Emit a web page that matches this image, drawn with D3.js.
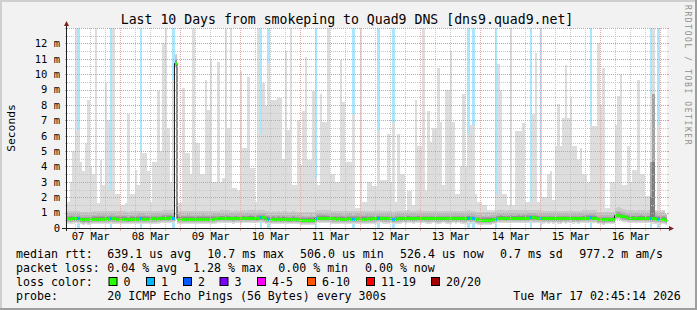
<!DOCTYPE html>
<html>
<head>
<meta charset="utf-8">
<script src="https://cdn.jsdelivr.net/npm/d3@7"></script>
<style>
  html, body { margin: 0; padding: 0; background: #f2f2f2; }
  svg { display: block; }
  text { font-family: "DejaVu Sans Mono", monospace; }
</style>
</head>
<body>
<svg id="chart" width="697" height="310"></svg>
<script>
// ---- data (rtt values in ms, one entry per hour, 240 hours = 10 days) ----
const startTime = new Date(Date.UTC(2026, 2, 7, 2, 45, 14));
const endTime = new Date(Date.UTC(2026, 2, 17, 2, 45, 14));

// highest of the 20 pings in each hour (the top of the smoke)
const pingMax = [
  1.7, 3.0, 5.0, 14, 6.4, 4.3, 3.7, 5.5, 8.3, 4.0,
  3.5, 14, 1.6, 4.4, 2.8, 9.5, 7.0, 2.5, 14, 2.2,
  2.2, 1.5, 1.5, 1.6, 7.4, 2.2, 2.2, 3.8, 2.8, 5.0,
  4.9, 4.9, 3.7, 1.7, 4.3, 4.3, 8.9, 5.0, 12.0, 14,
  6.5, 3.0, 9.6, 11.3, 1.6, 1.6, 9.1, 4.9, 4.9, 3.5,
  14, 5.5, 5.5, 3.5, 3.5, 9.6, 7.7, 11.0, 3.0, 3.0,
  10.8, 3.0, 3.25, 14, 6.5, 14, 2.6, 2.6, 2.4, 10.2,
  5.2, 5.2, 9.8, 3.9, 3.9, 1.7, 14, 6.1, 9.4, 8.0,
  10.7, 8.3, 8.3, 8.3, 8.45, 8.45, 4.5, 11.5, 6.4, 14,
  2.8, 2.8, 7.0, 4.1, 7.6, 11.1, 4.4, 4.4, 8.9, 3.25,
  2.8, 8.7, 6.9, 6.9, 14, 3.5, 3.5, 3.0, 3.0, 10.9,
  8.2, 4.3, 4.3, 4.3, 7.4, 1.3, 1.3, 14, 1.7, 1.7,
  3.0, 3.0, 2.7, 2.7, 6.3, 3.1, 3.1, 3.1, 6.1, 3.0,
  6.9, 1.7, 6.1, 3.5, 3.5, 1.2, 2.4, 2.4, 1.5, 8.3,
  5.3, 5.3, 14, 2.4, 7.6, 5.6, 6.5, 6.5, 10.4, 6.9,
  2.8, 9.0, 9.0, 11.5, 6.9, 2.2, 2.2, 4.0, 8.7, 4.0,
  6.1, 6.7, 6.7, 2.2, 1.7, 1.7, 1.5, 1.5, 1.2, 1.2,
  1.2, 2.2, 10.65, 9.0, 2.2, 2.2, 1.5, 14, 1.5, 6.3,
  6.3, 6.3, 6.8, 1.7, 1.7, 1.7, 7.4, 11.4, 1.7, 3.5,
  2.0, 2.0, 3.5, 3.7, 1.8, 5.3, 8.05, 5.3, 7.15, 10.6,
  7.15, 8.45, 5.3, 5.3, 4.4, 5.2, 3.5, 3.5, 3.0, 6.7,
  6.6, 6.6, 12.0, 8.0, 10.4, 1.3, 1.3, 3.0, 3.0, 6.7,
  8.56, 10.0, 2.8, 2.8, 5.3, 2.9, 3.8, 3.8, 9.6, 3.5,
  3.5, 2.06, 2.06, 8.7, 14, 1.2, 6.7, 1.2, 1.2, 0.9
];

// median rtt of each hour
const medianRtt = [
  0.60, 0.58, 0.60, 0.61, 0.60, 0.55, 0.53, 0.54, 0.53, 0.55, 0.56, 0.57,
  0.58, 0.57, 0.58, 0.59, 0.57, 0.60, 0.59, 0.57, 0.56, 0.56, 0.57, 0.56,
  0.55, 0.56, 0.57, 0.56, 0.58, 0.59, 0.58, 0.56, 0.57, 0.58, 0.59, 0.58,
  0.60, 0.61, 0.63, 0.65, 0.64, 0.66, 0.62, 10.7, 0.58, 0.57, 0.56, 0.57,
  0.58, 0.56, 0.57, 0.58, 0.57, 0.56, 0.58, 0.57, 0.56, 0.57, 0.58, 0.60,
  0.61, 0.62, 0.62, 0.63, 0.62, 0.61, 0.60, 0.62, 0.61, 0.60, 0.62, 0.61,
  0.62, 0.63, 0.62, 0.61, 0.64, 0.68, 0.66, 0.58, 0.57, 0.54, 0.56, 0.55,
  0.56, 0.55, 0.57, 0.56, 0.55, 0.54, 0.56, 0.55, 0.54, 0.52, 0.50, 0.49,
  0.50, 0.52, 0.51, 0.60, 0.64, 0.65, 0.63, 0.64, 0.62, 0.60, 0.59, 0.58,
  0.59, 0.58, 0.57, 0.58, 0.59, 0.58, 0.57, 0.58, 0.59, 0.58, 0.57, 0.58,
  0.59, 0.58, 0.59, 0.60, 0.62, 0.61, 0.60, 0.59, 0.60, 0.61, 0.55, 0.58,
  0.59, 0.60, 0.61, 0.60, 0.62, 0.61, 0.60, 0.61, 0.62, 0.60, 0.61, 0.60,
  0.59, 0.60, 0.61, 0.60, 0.59, 0.60, 0.61, 0.60, 0.59, 0.60, 0.61, 0.60,
  0.61, 0.60, 0.59, 0.60, 0.62, 0.60, 0.61, 0.55, 0.53, 0.52, 0.51, 0.52,
  0.51, 0.52, 0.54, 0.56, 0.62, 0.63, 0.62, 0.61, 0.62, 0.63, 0.62, 0.62,
  0.63, 0.62, 0.63, 0.64, 0.65, 0.68, 0.66, 0.64, 0.62, 0.61, 0.60, 0.61,
  0.60, 0.61, 0.60, 0.61, 0.60, 0.59, 0.61, 0.60, 0.61, 0.62, 0.60, 0.61,
  0.60, 0.61, 0.62, 0.63, 0.64, 0.66, 0.65, 0.62, 0.55, 0.54, 0.53, 0.54,
  0.55, 0.54, 0.55, 0.80, 0.82, 0.78, 0.72, 0.68, 0.64, 0.62, 0.62, 0.61,
  0.62, 0.63, 0.62, 0.61, 0.62, 0.60, 0.60, 0.58, 0.57, 0.55, 0.56, 0.52
];

// hours with 1 of 20 pings lost
const lossHours = [4, 17, 29, 42, 77, 80, 99, 114, 124, 130, 160, 162, 171, 185, 189, 209, 233, 236];

// sorted pings 1..19 of a typical hour, relative to its median
const smokeSpread = [-0.31, -0.24, -0.18, -0.13, -0.09, -0.06, -0.04, -0.02, -0.01, 0,
  0.01, 0.02, 0.04, 0.06, 0.09, 0.13, 0.19, 0.30, 0.52];

// hours where many pings were slow
const burstHours = [233, 234];
const burstHigh = [4.3, 8.7];
const burstMid = [2.0, 4.3];

const yTicks = d3.range(0, 13, 1);
const lossLegend = ["0", "1", "2", "3", "4-5", "6-10", "11-19", "20/20"];
const lossColors = ["#26ff00", "#00b8ff", "#0059ff", "#7e00ff", "#ff00ff", "#ff5500", "#ff0000", "#a10000"];

// ---- layout ----
const W = 697, H = 310;
const plot = { left: 67, top: 28, width: 600, height: 200 };
const bottom = plot.top + plot.height;
const right = plot.left + plot.width;

const svg = d3.select('#chart');
const x = d3.scaleUtc().domain([startTime, endTime]).range([plot.left, right]);
const y = d3.scaleLinear().domain([0, 13]).range([bottom, plot.top]);

// background and rrdtool style frame
svg.append('rect').attr('width', W).attr('height', H).attr('fill', '#f2f2f2');
svg.append('rect').attr('x', 0).attr('y', 0).attr('width', W).attr('height', 2).attr('fill', '#cfcfcf');
svg.append('rect').attr('x', 0).attr('y', 0).attr('width', 2).attr('height', H).attr('fill', '#cfcfcf');
svg.append('rect').attr('x', 0).attr('y', H - 2).attr('width', W).attr('height', 2).attr('fill', '#9e9e9e');
svg.append('rect').attr('x', W - 2).attr('y', 0).attr('width', 2).attr('height', H).attr('fill', '#9e9e9e');

svg.append('rect')
  .attr('x', plot.left).attr('y', plot.top)
  .attr('width', plot.width).attr('height', plot.height)
  .attr('fill', '#ffffff');

svg.append('defs').append('clipPath').attr('id', 'plotclip')
  .append('rect')
  .attr('x', plot.left).attr('y', plot.top)
  .attr('width', plot.width).attr('height', plot.height);

const g = svg.append('g').attr('clip-path', 'url(#plotclip)').attr('shape-rendering', 'crispEdges');

// one record per hour
const hours = pingMax.map((mx, i) => {
  const t0 = d3.utcHour.offset(startTime, i);
  const t1 = d3.utcHour.offset(startTime, i + 1);
  const pings = smokeSpread.map(o => medianRtt[i] + o);
  pings.push(mx);
  const b = burstHours.indexOf(i);
  if (b >= 0) {
    pings[18] = Math.max(pings[18], burstHigh[b]);
    pings[17] = Math.max(pings[17], burstHigh[b]);
    pings[16] = Math.max(pings[16], burstHigh[b]);
    pings[15] = Math.max(pings[15], burstMid[b]);
    pings[14] = Math.max(pings[14], burstMid[b]);
  }
  for (let k = 10; k < 19; k++) pings[k] = Math.min(pings[k], mx);
  return { i, t0, t1, pings, median: medianRtt[i], loss: lossHours.includes(i) ? 1 : 0 };
});

// loss background columns
g.selectAll('.lossbg')
  .data(hours.filter(d => d.loss > 0))
  .join('rect')
  .attr('class', 'lossbg')
  .attr('x', d => x(d.t0))
  .attr('width', d => x(d.t1) - x(d.t0))
  .attr('y', plot.top)
  .attr('height', plot.height)
  .attr('fill', '#abe6fc');

// smoke: 10 layers, outer pings lightest
for (let k = 0; k < 10; k++) {
  const grey = Math.floor(190 / 10 * (10 - (k + 1))) + 50;
  g.selectAll('.smoke' + k)
    .data(hours)
    .join('rect')
    .attr('class', 'smoke' + k)
    .attr('x', d => x(d.t0))
    .attr('width', d => x(d.t1) - x(d.t0))
    .attr('y', d => y(d.pings[19 - k]))
    .attr('height', d => Math.max(0, y(d.pings[k]) - y(d.pings[19 - k])))
    .attr('fill', d3.rgb(grey, grey, grey));
}

// median line
const medPts = [];
hours.forEach(d => { medPts.push([x(d.t0), y(d.median)]); medPts.push([x(d.t1), y(d.median)]); });
g.append('path')
  .attr('d', d3.line()(medPts))
  .attr('fill', 'none')
  .attr('stroke', '#202020')
  .attr('stroke-width', 1)
  .attr('shape-rendering', 'auto');

g.selectAll('.med')
  .data(hours)
  .join('rect')
  .attr('class', 'med')
  .attr('x', d => x(d.t0))
  .attr('width', d => x(d.t1) - x(d.t0))
  .attr('y', d => y(d.median) - 1.5)
  .attr('height', 3)
  .attr('fill', d => lossColors[d.loss]);

// ---- grid ----
const grid = svg.append('g').attr('shape-rendering', 'crispEdges');
const minorY = d3.range(0.5, 13.01, 0.5).filter(v => v % 1 !== 0);
const majorY = d3.range(1, 13.01, 1);
const minorX = d3.utcHour.every(6).range(startTime, endTime).filter(t => t.getUTCHours() !== 0);
const majorX = d3.utcDay.range(startTime, endTime);

function hLines(vals, color) {
  grid.selectAll(null).data(vals).join('line')
    .attr('x1', plot.left).attr('x2', right)
    .attr('y1', d => Math.round(y(d)) + 0.5).attr('y2', d => Math.round(y(d)) + 0.5)
    .attr('stroke', color).attr('stroke-dasharray', '1,1');
  grid.selectAll(null).data(vals).join('line')
    .attr('x1', plot.left - 2).attr('x2', plot.left)
    .attr('y1', d => Math.round(y(d)) + 0.5).attr('y2', d => Math.round(y(d)) + 0.5)
    .attr('stroke', color);
  grid.selectAll(null).data(vals).join('line')
    .attr('x1', right).attr('x2', right + 2)
    .attr('y1', d => Math.round(y(d)) + 0.5).attr('y2', d => Math.round(y(d)) + 0.5)
    .attr('stroke', color);
}
function vLines(vals, color) {
  grid.selectAll(null).data(vals).join('line')
    .attr('y1', plot.top).attr('y2', bottom)
    .attr('x1', d => Math.round(x(d)) + 0.5).attr('x2', d => Math.round(x(d)) + 0.5)
    .attr('stroke', color).attr('stroke-dasharray', '1,1');
  grid.selectAll(null).data(vals).join('line')
    .attr('y1', bottom).attr('y2', bottom + 3)
    .attr('x1', d => Math.round(x(d)) + 0.5).attr('x2', d => Math.round(x(d)) + 0.5)
    .attr('stroke', color);
}
hLines(minorY, '#c6c6c6');
vLines(minorX, '#c6c6c6');
hLines(majorY, '#de9a9a');
vLines(majorX, '#e6aaaa');

// ---- axes ----
const axisCol = '#1f1f1f', arrowCol = '#801f1f';
svg.append('line').attr('x1', plot.left - 5).attr('x2', right + 3)
  .attr('y1', bottom + 0.5).attr('y2', bottom + 0.5).attr('stroke', axisCol);
svg.append('line').attr('x1', plot.left - 0.5).attr('x2', plot.left - 0.5)
  .attr('y1', bottom + 3).attr('y2', plot.top - 3).attr('stroke', axisCol);
svg.append('path')
  .attr('d', `M${plot.left - 3},${plot.top - 2}L${plot.left + 2},${plot.top - 2}L${plot.left - 0.5},${plot.top - 7}Z`)
  .attr('fill', arrowCol);
svg.append('path')
  .attr('d', `M${right + 2},${bottom - 2}L${right + 2},${bottom + 3}L${right + 7},${bottom + 0.5}Z`)
  .attr('fill', arrowCol);

const yAxis = d3.axisLeft(y).tickValues(yTicks).tickSize(0).tickPadding(7)
  .tickFormat(v => v === 0 ? '0' : v + ' m');
svg.append('g').attr('transform', `translate(${plot.left},0)`).call(yAxis)
  .call(a => a.select('.domain').remove())
  .selectAll('text')
  .attr('font-family', '"DejaVu Sans Mono", monospace')
  .attr('font-size', 10.5).attr('fill', '#000');

const dayLabels = d3.utcDay.range(startTime, endTime).map(d => d3.utcHour.offset(d, 12))
  .concat([d3.utcHour.offset(d3.utcDay.floor(startTime), 12)])
  .filter(t => t >= startTime && t <= endTime)
  .sort((a, b) => a - b);
const xAxis = d3.axisBottom(x).tickValues(dayLabels).tickSize(0).tickPadding(5)
  .tickFormat(d3.utcFormat('%d %b'));
svg.append('g').attr('transform', `translate(0,${bottom})`).call(xAxis)
  .call(a => a.select('.domain').remove())
  .selectAll('text')
  .attr('font-family', '"DejaVu Sans Mono", monospace')
  .attr('font-size', 10.5).attr('fill', '#000');

// ---- titles ----
svg.append('text').attr('x', 347).attr('y', 24).attr('text-anchor', 'middle')
  .attr('font-size', 13.2).attr('fill', '#000')
  .text('Last 10 Days from smokeping to Quad9 DNS [dns9.quad9.net]');

svg.append('text').attr('transform', 'translate(14.5,128) rotate(-90)').attr('text-anchor', 'middle')
  .attr('font-size', 11.3).attr('fill', '#000').text('Seconds');

svg.append('text').attr('transform', 'translate(685,5) rotate(90)')
  .attr('font-size', 8).attr('fill', '#909090').attr('letter-spacing', 1.6)
  .text('RRDTOOL / TOBI OETIKER');

// ---- legend ----
const legendRows = [
  [[16, 'median rtt:'], [107.3, '639.1 us avg'], [207.3, '10.7 ms max'], [300, '506.0 us min'],
   [400, '526.4 us now'], [500, '0.7 ms sd'], [579.3, '977.2 m am/s']],
  [[16, 'packet loss:'], [107.3, '0.04 % avg'], [193, '1.28 % max'], [278.3, '0.00 % min'], [365, '0.00 % now']],
  [[16, 'loss color:']],
  [[16, 'probe:'], [107.3, '20 ICMP Echo Pings (56 Bytes) every 300s'], [513.3, 'Tue Mar 17 02:45:14 2026']]
];
const rowY = [258, 272, 286, 300];
const legend = svg.append('g').attr('font-size', 11.6).attr('fill', '#000');
legendRows.forEach((row, r) => {
  row.forEach(([lx, txt]) => {
    legend.append('text').attr('x', lx).attr('y', rowY[r]).attr('xml:space', 'preserve').text(txt);
  });
});
const swatchX = [108.5, 146, 183, 219.5, 257, 307, 366, 431];
lossLegend.forEach((lab, i) => {
  legend.append('rect').attr('x', swatchX[i] + 0.5).attr('y', 277.5).attr('width', 8).attr('height', 8)
    .attr('fill', lossColors[i]).attr('stroke', '#000');
  legend.append('text').attr('x', swatchX[i] + 15).attr('y', rowY[2]).text(lab);
});
</script>
</body>
</html>
